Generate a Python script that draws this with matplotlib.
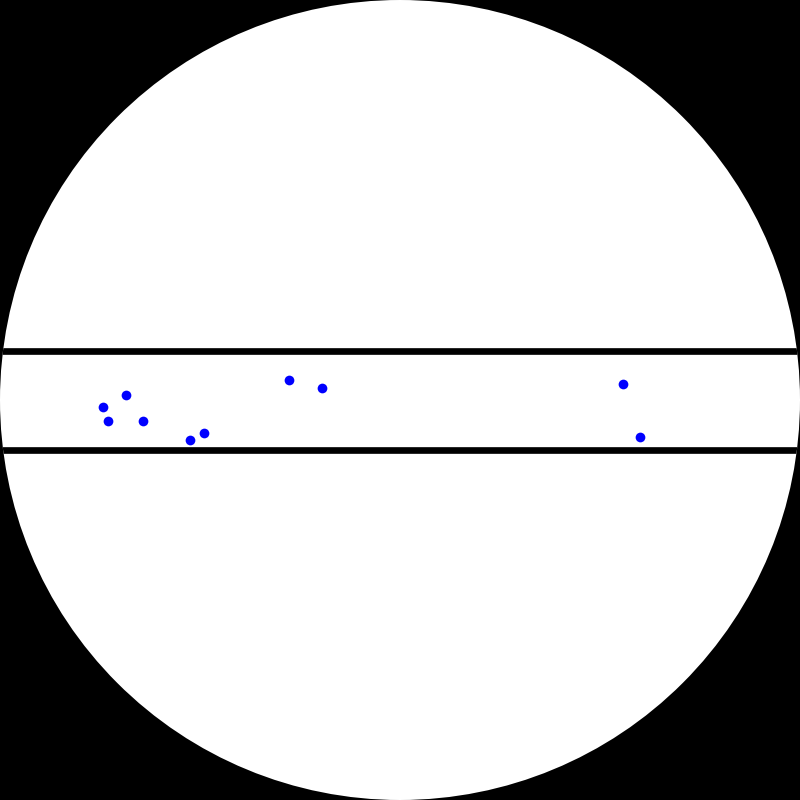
import matplotlib
matplotlib.use("Agg")
import matplotlib.pyplot as plt
from matplotlib.patches import Circle

# Data (in the chart's 0-800 coordinate space)
point_x = [103.3, 108.3, 126.0, 143.3, 190.0, 204.0, 289.0, 322.0, 623.3, 640.3]
point_y = [406.7, 421.0, 395.3, 421.0, 440.0, 433.0, 380.0, 388.0, 384.0, 437.3]
band_lines = [350.5, 450.0]

fig = plt.figure(figsize=(8, 8), dpi=100, facecolor="black")
ax = fig.add_axes([0, 0, 1, 1])
ax.set_facecolor("black")
ax.set_xlim(0, 800)
ax.set_ylim(800, 0)
ax.set_aspect("equal")
ax.axis("off")

circ = Circle((400, 400), 400, facecolor="white", edgecolor="none")
ax.add_patch(circ)

for y in band_lines:
    ln = ax.plot([0, 800], [y, y], color="black", linewidth=4.8, solid_capstyle="butt")[0]
    ln.set_clip_path(circ)

ax.plot(point_x, point_y, "o", color="#0000ff", markersize=7, markeredgewidth=0)

fig.savefig("out.png", dpi=100, facecolor="black")
